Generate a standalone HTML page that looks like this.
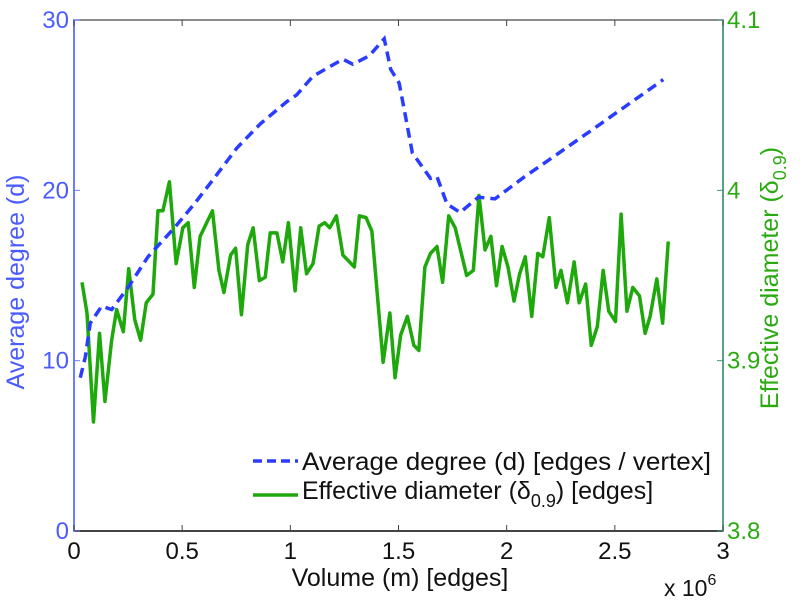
<!DOCTYPE html>
<html><head><meta charset="utf-8"><style>
html,body{margin:0;padding:0;background:#fff;}
svg{display:block;font-family:"Liberation Sans",sans-serif;}
</style></head><body>
<svg id="chart" width="806" height="600" viewBox="0 0 806 600">
<g id="axes"></g>
<g id="series"></g>
<g id="legend">
  <line x1="253" y1="461" x2="298" y2="461" stroke="#2a3cff" stroke-width="3.5" stroke-dasharray="9,5"/>
  <text x="302" y="470" font-size="25" fill="#111" textLength="409" lengthAdjust="spacingAndGlyphs">Average degree (d) [edges / vertex]</text>
  <line x1="253" y1="495" x2="298" y2="495" stroke="#1ea80c" stroke-width="3.5"/>
  <text x="302" y="499" font-size="25" fill="#111">Effective diameter (δ<tspan font-size="18" dy="8">0.9</tspan><tspan dy="-8">) [edges]</tspan></text>
</g>
<text x="400" y="586" font-size="25" fill="#111" text-anchor="middle">Volume (m) [edges]</text>
<text x="664" y="596" font-size="23" fill="#111">x 10<tspan font-size="16" dy="-11">6</tspan></text>
<text transform="translate(24,282) rotate(-90)" font-size="25" fill="#4a5cff" text-anchor="middle">Average degree (d)</text>
<text transform="translate(778,278) rotate(-90)" font-size="25" fill="#2aaa10" text-anchor="middle">Effective diameter (δ<tspan font-size="18" dy="8">0.9</tspan><tspan dy="-8">)</tspan></text>
<script>
const xTicks = [0, 0.5, 1, 1.5, 2, 2.5, 3];
const xTickLabels = ["0","0.5","1","1.5","2","2.5","3"];
const leftTicks = [0, 10, 20, 30];
const leftTickLabels = ["0","10","20","30"];
const rightTicks = [3.8, 3.9, 4.0, 4.1];
const rightTickLabels = ["3.8","3.9","4","4.1"];
const degreeX = [0.029,0.052,0.075,0.128,0.174,0.25,0.342,0.464,0.556,0.647,0.754,0.861,0.983,1.029,1.105,1.243,1.289,1.365,1.434,1.464,1.503,1.533,1.564,1.648,1.678,1.724,1.785,1.869,1.946,2.083,2.220,2.434,2.724];
const degreeY = [9.0,10.2,12.2,13.2,13.0,14.3,16.1,17.8,19.2,20.7,22.5,23.9,25.2,25.6,26.7,27.7,27.4,27.9,28.9,27.1,26.3,24.3,22.2,20.7,20.8,19.2,18.7,19.6,19.5,20.8,22.0,23.9,26.5];
const diamX = [0.037,0.060,0.090,0.118,0.143,0.174,0.197,0.228,0.253,0.281,0.308,0.334,0.365,0.388,0.411,0.441,0.472,0.503,0.528,0.556,0.583,0.640,0.670,0.693,0.724,0.747,0.774,0.803,0.828,0.857,0.884,0.907,0.938,0.965,0.991,1.022,1.048,1.075,1.105,1.133,1.159,1.182,1.213,1.243,1.296,1.319,1.350,1.377,1.429,1.460,1.484,1.510,1.541,1.571,1.594,1.622,1.648,1.678,1.704,1.732,1.762,1.815,1.846,1.872,1.900,1.927,1.953,1.979,2.006,2.034,2.060,2.086,2.116,2.144,2.167,2.197,2.228,2.251,2.281,2.312,2.335,2.365,2.391,2.419,2.446,2.472,2.503,2.529,2.556,2.583,2.614,2.640,2.663,2.694,2.721,2.747];
const diamY = [3.946,3.928,3.864,3.916,3.876,3.912,3.930,3.917,3.954,3.924,3.912,3.934,3.939,3.988,3.988,4.005,3.957,3.978,3.981,3.943,3.973,3.988,3.953,3.940,3.962,3.966,3.927,3.968,3.978,3.947,3.949,3.975,3.975,3.958,3.981,3.941,3.978,3.951,3.957,3.979,3.981,3.978,3.985,3.962,3.955,3.985,3.984,3.976,3.899,3.928,3.890,3.915,3.926,3.909,3.906,3.955,3.963,3.967,3.946,3.985,3.978,3.950,3.953,3.997,3.965,3.973,3.944,3.967,3.955,3.935,3.951,3.961,3.926,3.963,3.961,3.984,3.943,3.953,3.934,3.958,3.934,3.945,3.909,3.920,3.953,3.929,3.923,3.986,3.929,3.943,3.938,3.916,3.926,3.948,3.922,3.970];

const L=74, R=723, T=20, B=531;
const sx = v => L + (R-L)*v/3;
const syL = v => B - (B-T)*v/30;
const syR = v => B - (B-T)*(v-3.8)/0.3;
const NS="http://www.w3.org/2000/svg";
function mk(tag, parent){ const e=document.createElementNS(NS,tag); parent.appendChild(e); return e; }
const axes=document.getElementById('axes'), series=document.getElementById('series');

let e=mk('rect',axes); e.setAttribute('x',L); e.setAttribute('y',T); e.setAttribute('width',R-L); e.setAttribute('height',B-T);
e.setAttribute('fill','none'); e.setAttribute('stroke','#666'); e.setAttribute('stroke-width','1.5');


e=mk('line',axes); e.setAttribute('x1',L); e.setAttribute('x2',R); e.setAttribute('y1',B); e.setAttribute('y2',B); e.setAttribute('stroke','#444'); e.setAttribute('stroke-width','2');


e=mk('line',axes); e.setAttribute('x1',L); e.setAttribute('x2',L); e.setAttribute('y1',T); e.setAttribute('y2',B); e.setAttribute('stroke','#6a7cff'); e.setAttribute('stroke-width','2');


e=mk('line',axes); e.setAttribute('x1',R); e.setAttribute('x2',R); e.setAttribute('y1',T); e.setAttribute('y2',B); e.setAttribute('stroke','#3a9a7a'); e.setAttribute('stroke-width','1.5');



xTicks.forEach((v,i)=>{
  const x=sx(v);
  let t=mk('line',axes); t.setAttribute('x1',x); t.setAttribute('x2',x); t.setAttribute('y1',B); t.setAttribute('y2',B-6); t.setAttribute('stroke','#444');
  
  
  t=mk('line',axes); t.setAttribute('x1',x); t.setAttribute('x2',x); t.setAttribute('y1',T); t.setAttribute('y2',T+6); t.setAttribute('stroke','#444');
  
  
  const lb=mk('text',axes); lb.setAttribute('x',x); lb.setAttribute('y',B+28); lb.setAttribute('font-size','24'); lb.setAttribute('text-anchor','middle'); lb.setAttribute('fill','#111'); lb.textContent=xTickLabels[i];
  
  
});
leftTicks.forEach((v,i)=>{
  const y=syL(v);
  const t=mk('line',axes); t.setAttribute('x1',L); t.setAttribute('x2',L+6); t.setAttribute('y1',y); t.setAttribute('y2',y); t.setAttribute('stroke','#6a7cff');
  
  
  const lb=mk('text',axes); lb.setAttribute('x',L-5); lb.setAttribute('y',y+8); lb.setAttribute('font-size','24'); lb.setAttribute('text-anchor','end'); lb.setAttribute('fill','#4a5cff'); lb.textContent=leftTickLabels[i];
  
  
});
rightTicks.forEach((v,i)=>{
  const y=syR(v);
  const t=mk('line',axes); t.setAttribute('x1',R-6); t.setAttribute('x2',R); t.setAttribute('y1',y); t.setAttribute('y2',y); t.setAttribute('stroke','#3a9a7a');
  
  
  const lb=mk('text',axes); lb.setAttribute('x',R+4); lb.setAttribute('y',y+8); lb.setAttribute('font-size','24'); lb.setAttribute('fill','#2aaa10'); lb.textContent=rightTickLabels[i];
  
  
});

const g=mk('polyline',series);
g.setAttribute('points', diamX.map((x,i)=>sx(x)+','+syR(diamY[i])).join(' '));
g.setAttribute('fill','none'); g.setAttribute('stroke','#1ea80c'); g.setAttribute('stroke-width','3.5'); g.setAttribute('stroke-linejoin','round');


const b=mk('polyline',series);
b.setAttribute('points', degreeX.map((x,i)=>sx(x)+','+syL(degreeY[i])).join(' '));
b.setAttribute('fill','none'); b.setAttribute('stroke','#2a3cff'); b.setAttribute('stroke-width','3.5'); b.setAttribute('stroke-dasharray','10,6');


</script>
</svg>
</body></html>
